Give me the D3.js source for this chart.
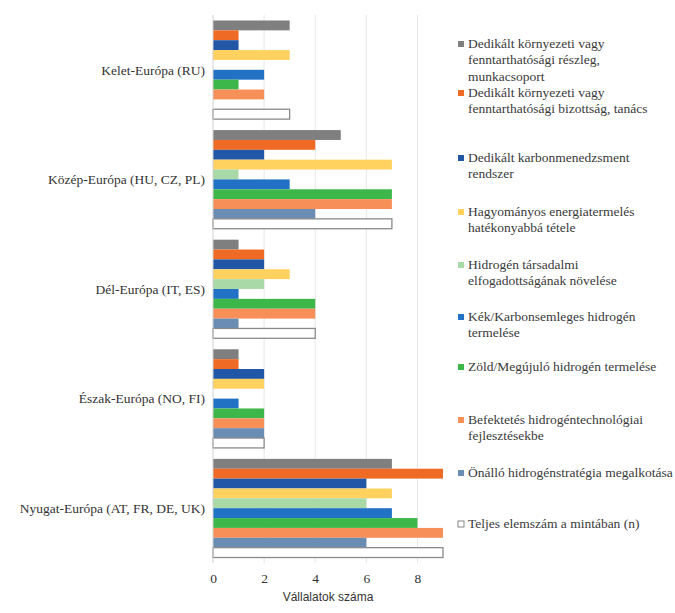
<!DOCTYPE html>
<html>
<head>
<meta charset="utf-8">
<script src="https://cdn.jsdelivr.net/npm/d3@7"></script>
<style>
  body { margin: 0; background: #fff; }
  text { font-family: "Liberation Serif", "Times New Roman", Times, "DejaVu Serif", serif; }
</style>
</head>
<body>
<script>
const regions = [
  'Kelet-Európa (RU)',
  'Közép-Európa (HU, CZ, PL)',
  'Dél-Európa (IT, ES)',
  'Észak-Európa (NO, FI)',
  'Nyugat-Európa (AT, FR, DE, UK)',
];

const seriesNames = [
  ['Dedikált környezeti vagy', 'fenntarthatósági részleg,', 'munkacsoport'],
  ['Dedikált környezeti vagy', 'fenntarthatósági bizottság, tanács'],
  ['Dedikált karbonmenedzsment', 'rendszer'],
  ['Hagyományos energiatermelés', 'hatékonyabbá tétele'],
  ['Hidrogén társadalmi', 'elfogadottságának növelése'],
  ['Kék/Karbonsemleges hidrogén', 'termelése'],
  ['Zöld/Megújuló hidrogén termelése'],
  ['Befektetés hidrogéntechnológiai', 'fejlesztésekbe'],
  ['Önálló hidrogénstratégia megalkotása'],
  ['Teljes elemszám a mintában (n)'],
];

// one row per region, one value per series (same order as seriesNames)
const keletValues = [3, 1, 1, 3, 0, 2, 1, 2, 0, 3];
const kozepValues = [5, 4, 2, 7, 1, 3, 7, 7, 4, 7];
const delValues = [1, 2, 2, 3, 2, 1, 4, 4, 1, 4];
const eszakValues = [1, 1, 2, 2, 0, 1, 2, 2, 2, 2];
const nyugatValues = [7, 9, 6, 7, 6, 7, 8, 9, 6, 9];

const xTicks = [0, 2, 4, 6, 8];

const colors = ['#7f7f7f', '#ef6a25', '#2157a6', '#ffd15e', '#a9d9a7',
  '#2171c4', '#3db74a', '#f68f58', '#6a8db4', '#ffffff'];

const values = [keletValues, kozepValues, delValues, eszakValues, nyugatValues];

const width = 675;
const height = 613;
const margin = { top: 15, left: 213, bottom: 50 };
const plotRight = 443;
const serif = '"Liberation Serif", "Times New Roman", Times, "DejaVu Serif", serif';

const svg = d3.select('body').append('svg')
  .attr('width', width)
  .attr('height', height);

const x = d3.scaleLinear()
  .domain([0, 9])
  .range([margin.left, plotRight]);

const y0 = d3.scaleBand()
  .domain(regions)
  .range([margin.top, height - margin.bottom])
  .paddingInner(0.1)
  .paddingOuter(0.05);

const y1 = d3.scaleBand()
  .domain(d3.range(seriesNames.length))
  .range([0, y0.bandwidth()]);

// gridlines
svg.append('g')
  .selectAll('line')
  .data(xTicks.filter(t => t > 0))
  .enter().append('line')
    .attr('x1', d => x(d))
    .attr('x2', d => x(d))
    .attr('y1', margin.top)
    .attr('y2', height - margin.bottom)
    .attr('stroke', '#e6e6e6')
    .attr('stroke-width', 1);

const groups = svg.append('g')
  .selectAll('g')
  .data(regions)
  .enter().append('g')
    .attr('transform', d => `translate(0,${y0(d)})`);

groups.selectAll('rect')
  .data((d, i) => values[i].map((v, j) => ({ v, j })))
  .enter().append('rect')
    .attr('x', x(0))
    .attr('y', d => y1(d.j))
    .attr('width', d => x(d.v) - x(0))
    .attr('height', y1.bandwidth())
    .attr('fill', d => colors[d.j])
    .attr('stroke', d => (d.j === 9 ? '#8a8a8a' : 'none'))
    .attr('stroke-width', 1.3);

// left axis line
svg.append('line')
  .attr('x1', x(0))
  .attr('x2', x(0))
  .attr('y1', margin.top)
  .attr('y2', height - margin.bottom)
  .attr('stroke', '#d0d0d0');

// category labels
svg.append('g')
  .selectAll('text')
  .data(regions)
  .enter().append('text')
    .attr('x', x(0) - 8)
    .attr('y', d => y0(d) + y0.bandwidth() / 2)
    .attr('dy', '0.35em')
    .attr('text-anchor', 'end')
    .attr('font-family', serif)
    .attr('font-size', 13.5)
    .attr('fill', '#333')
    .text(d => d);

// x axis
const xAxis = svg.append('g')
  .attr('transform', `translate(0,${height - margin.bottom})`)
  .call(d3.axisBottom(x).tickValues(xTicks).tickSize(0).tickPadding(10));
xAxis.select('.domain').remove();
xAxis.selectAll('text')
  .attr('font-family', serif)
  .attr('font-size', 13.5)
  .attr('fill', '#333');

svg.append('text')
  .attr('x', (x(0) + x(9)) / 2)
  .attr('y', 601)
  .attr('text-anchor', 'middle')
  .attr('font-size', 12)
  .style('font-family', '"Liberation Sans", Arial, sans-serif')
  .attr('fill', '#333')
  .text('Vállalatok száma');

// legend
const legendY = [48, 97, 162, 216, 269, 321, 371, 424, 477, 528];
const legend = svg.append('g')
  .selectAll('g')
  .data(seriesNames)
  .enter().append('g')
    .attr('transform', (d, i) => `translate(458,${legendY[i]})`);

legend.append('rect')
  .attr('x', 0)
  .attr('y', -7)
  .attr('width', 6)
  .attr('height', 6)
  .attr('fill', (d, i) => colors[i])
  .attr('stroke', (d, i) => (i === 9 ? '#666' : 'none'))
  .attr('stroke-width', 0.8);

legend.selectAll('text')
  .data(d => d)
  .enter().append('text')
    .attr('x', 10)
    .attr('y', (d, k) => k * 16.3)
    .attr('font-family', serif)
    .attr('font-size', 13.5)
    .attr('fill', '#3a3a3a')
    .text(d => d);
</script>
</body>
</html>
